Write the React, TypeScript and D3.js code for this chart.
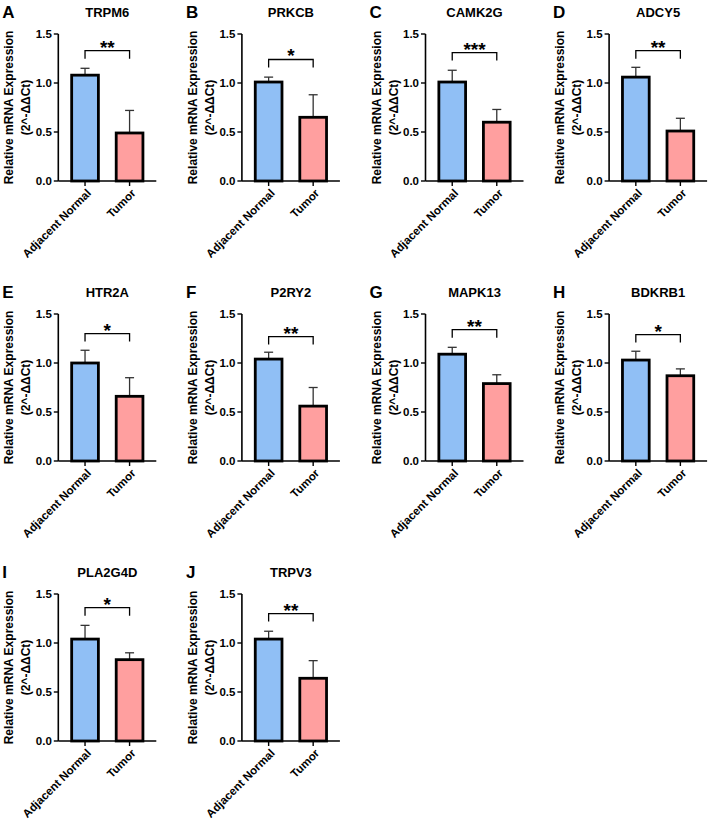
import React from "react";
import * as d3 from "d3";

// Gene panels: relative mRNA expression (2^-ΔΔCt), mean with upper SD
const genes = ["TRPM6", "PRKCB", "CAMK2G", "ADCY5", "HTR2A", "P2RY2", "MAPK13", "BDKRB1", "PLA2G4D", "TRPV3"];
const panelLetters = ["A", "B", "C", "D", "E", "F", "G", "H", "I", "J"];
const groups = ["Adjacent Normal", "Tumor"];
const normalMean = [1.08, 1.01, 1.01, 1.06, 1.0, 1.04, 1.09, 1.03, 1.04, 1.04];
const normalErr = [0.07, 0.05, 0.12, 0.1, 0.13, 0.07, 0.07, 0.09, 0.14, 0.08];
const tumorMean = [0.49, 0.65, 0.6, 0.51, 0.66, 0.56, 0.79, 0.87, 0.83, 0.64];
const tumorErr = [0.23, 0.23, 0.13, 0.13, 0.19, 0.19, 0.09, 0.07, 0.07, 0.18];
const significance = ["**", "*", "***", "**", "*", "**", "**", "*", "*", "**"];
const bracketLevel = [1.33, 1.24, 1.31, 1.33, 1.3, 1.27, 1.34, 1.29, 1.36, 1.3];
const yTicks = [0, 0.5, 1.0, 1.5];

const W = 709;
const H = 821;
const FONT = "Arial, 'Liberation Sans', Helvetica, sans-serif";
const colors = ["#90bff5", "#ff9f9f"];

const plotW = 98;
const plotH = 147;
const colStep = 183.6;
const rowStep = 280;
const originX = 58.3;
const originY = 181;

const y = d3.scaleLinear().domain([0, 1.5]).range([plotH, 0]);
const x = d3.scaleBand<string>().domain(groups).range([0, plotW]).paddingInner(0.4).paddingOuter(0.3);

function Panel({ i }: { i: number }) {
  const col = i % 4;
  const row = Math.floor(i / 4);
  const tx = originX + col * colStep;
  const ty = originY + row * rowStep - plotH;
  const means = [normalMean[i], tumorMean[i]];
  const errs = [normalErr[i], tumorErr[i]];
  const bw = x.bandwidth();
  const cx = groups.map((g) => (x(g) as number) + bw / 2);
  const by = y(bracketLevel[i]);
  const capHalf = 4.5;
  return (
    <g transform={`translate(${tx},${ty})`} fontFamily={FONT} fontWeight="bold" fill="#000">
      <text x={-56} y={-16} fontSize={17}>{panelLetters[i]}</text>
      <text x={plotW / 2} y={-17} fontSize={13} textAnchor="middle">{genes[i]}</text>
      {/* y-axis title */}
      <text transform={`translate(-45,${plotH / 2}) rotate(-90)`} fontSize={12} textAnchor="middle">
        Relative mRNA Expression
      </text>
      <text transform={`translate(-28,${plotH / 2}) rotate(-90)`} fontSize={12} textAnchor="middle">
        (2^-ΔΔCt)
      </text>
      {/* error bars (upper only) */}
      {groups.map((g, k) => (
        <g key={"e" + k} stroke="#333" strokeWidth={1.3}>
          <line x1={cx[k]} x2={cx[k]} y1={y(means[k])} y2={y(means[k] + errs[k])} />
          <line x1={cx[k] - capHalf} x2={cx[k] + capHalf} y1={y(means[k] + errs[k])} y2={y(means[k] + errs[k])} />
        </g>
      ))}
      {/* bars */}
      {groups.map((g, k) => (
        <rect
          key={"b" + k}
          x={x(g) as number}
          y={y(means[k])}
          width={bw}
          height={plotH - y(means[k])}
          fill={colors[k]}
          stroke="#000"
          strokeWidth={2.8}
        />
      ))}
      {/* axes */}
      <line x1={0} x2={0} y1={0} y2={plotH} stroke="#000" strokeWidth={1.6} />
      <line x1={0} x2={plotW} y1={plotH} y2={plotH} stroke="#000" strokeWidth={1.6} />
      {yTicks.map((t) => (
        <g key={t}>
          <line x1={-4.5} x2={0} y1={y(t)} y2={y(t)} stroke="#000" strokeWidth={1.4} />
          <text x={-6.5} y={y(t)} dy="0.35em" fontSize={11.5} textAnchor="end">
            {d3.format(".1f")(t)}
          </text>
        </g>
      ))}
      {groups.map((g, k) => (
        <g key={"x" + k}>
          <line x1={cx[k]} x2={cx[k]} y1={plotH} y2={plotH + 5} stroke="#000" strokeWidth={1.4} />
          <text
            transform={`translate(${cx[k] + 4},${plotH + 10}) rotate(-45)`}
            fontSize={11.5}
            textAnchor="end"
            dy="0.35em"
          >
            {g}
          </text>
        </g>
      ))}
      {/* significance bracket */}
      <path
        d={`M${cx[0]},${by + 8}V${by}H${cx[1]}V${by + 8}`}
        fill="none"
        stroke="#000"
        strokeWidth={1.3}
      />
      <text x={(cx[0] + cx[1]) / 2} y={by + 3} fontSize={19} textAnchor="middle">
        {significance[i]}
      </text>
    </g>
  );
}

export default function App() {
  return (
    <svg
      width={W}
      height={H}
      viewBox={`0 0 ${W} ${H}`}
      style={{ position: "absolute", left: 0, top: 0, background: "#fff", display: "block" }}
    >
      <rect width={W} height={H} fill="#fff" />
      {genes.map((g, i) => (
        <Panel key={g} i={i} />
      ))}
    </svg>
  );
}
